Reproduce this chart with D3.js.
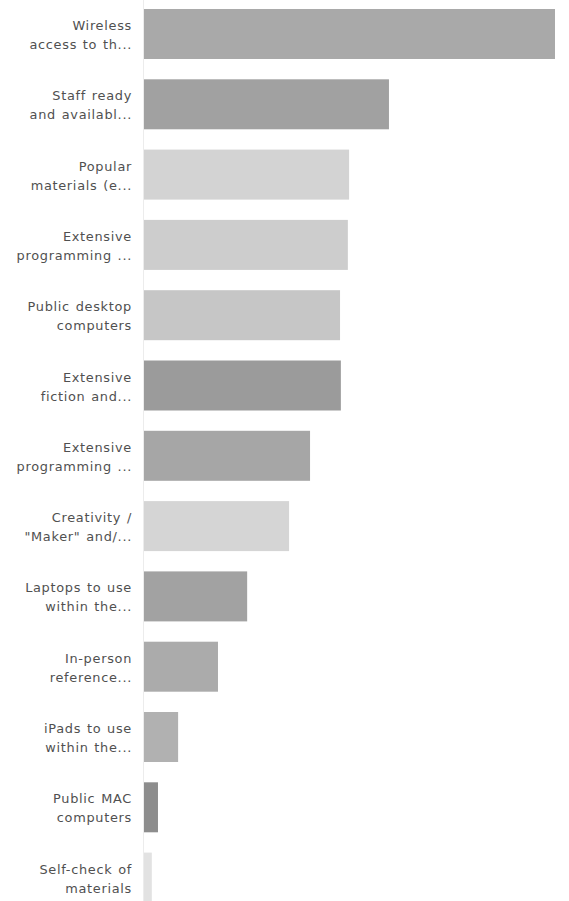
<!DOCTYPE html>
<html>
<head>
<meta charset="utf-8">
<script src="https://cdn.jsdelivr.net/npm/d3@7"></script>
<style>
  html, body { margin: 0; padding: 0; background: #fff; }
  svg { display: block; }
  .lbl { font-family: "DejaVu Sans", "Open Sans", sans-serif; font-size: 12.9px; fill: #505050; letter-spacing: 0.7px; word-spacing: 1px; }
</style>
</head>
<body>
<div id="chart"></div>
<script>
// Categories (two-line truncated labels as shown)
const labelLine1 = ["Wireless", "Staff ready", "Popular", "Extensive", "Public desktop", "Extensive", "Extensive", "Creativity /", "Laptops to use", "In-person", "iPads to use", "Public MAC", "Self-check of"];
const labelLine2 = ["access to th...", "and availabl...", "materials (e...", "programming ...", "computers", "fiction and...", "programming ...", "\"Maker\" and/...", "within the...", "reference...", "within the...", "computers", "materials"];
// Values (relative share)
const values = [100, 59.6, 49.9, 49.6, 47.7, 47.9, 40.4, 35.3, 25.1, 18.0, 8.3, 3.4, 1.9];
const shades = ["#a9a9a9", "#a1a1a1", "#d3d3d3", "#cdcdcd", "#c6c6c6", "#9b9b9b", "#a6a6a6", "#d5d5d5", "#a2a2a2", "#ababab", "#b1b1b1", "#8d8d8d", "#e2e2e2"];

const W = 569, H = 901;
const mLeft = 144, mRight = 555;
const step = 70.3, barH = 50, firstTop = 9;

const svg = d3.select("#chart").append("svg").attr("width", W).attr("height", H);

const idx = d3.range(values.length);
const gap = step - barH;
const y = d3.scaleBand().domain(idx)
  .range([firstTop - gap / 2, firstTop - gap / 2 + step * values.length])
  .paddingInner(gap / step).paddingOuter(gap / step / 2);
const x = d3.scaleLinear().domain([0, d3.max(values)]).range([mLeft, mRight]);

// faint axis line
svg.append("line").attr("x1", mLeft - 0.5).attr("x2", mLeft - 0.5).attr("y1", 0).attr("y2", H)
  .attr("stroke", "#ececec").attr("stroke-width", 1);

svg.append("g").selectAll("rect").data(idx).join("rect")
  .attr("x", x(0))
  .attr("y", i => y(i))
  .attr("height", y.bandwidth())
  .attr("width", i => x(values[i]) - x(0))
  .attr("fill", i => shades[i]);

const labels = svg.append("g");
idx.forEach(i => {
  const cy = y(i) + y.bandwidth() / 2;
  labels.append("text").attr("class", "lbl").attr("x", 132).attr("y", cy - 4).attr("text-anchor", "end").text(labelLine1[i]);
  labels.append("text").attr("class", "lbl").attr("x", 132).attr("y", cy + 15).attr("text-anchor", "end").text(labelLine2[i]);
});
</script>
</body>
</html>
